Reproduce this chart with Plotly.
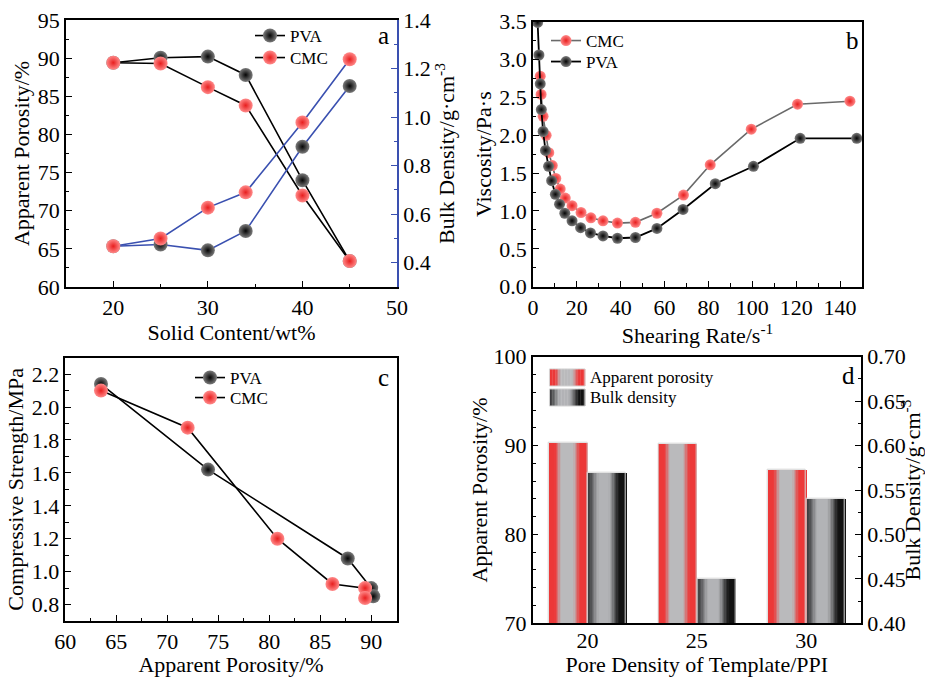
import plotly.graph_objects as go

# ---------------- data ----------------
# Panel a
solid = [20, 25, 30, 34, 40, 45]
pva_por = [89.4, 90.05, 90.2, 87.8, 74.0, 63.4]
cmc_por = [89.4, 89.3, 86.2, 83.8, 72.0, 63.4]
pva_den = [0.468, 0.475, 0.451, 0.531, 0.878, 1.128]
cmc_den = [0.468, 0.500, 0.627, 0.690, 0.978, 1.238]

# Panel b
pva_rate = [2.1, 2.7, 3.3, 3.8, 4.6, 5.7, 7.1, 8.5, 10.2, 12.1, 14.5, 17.8, 21.7,
            26.2, 31.9, 38.5, 46.7, 56.5, 68.4, 83.1, 100.5, 121.8, 147.6]
pva_vis = [3.49, 3.06, 2.68, 2.34, 2.05, 1.80, 1.59, 1.40, 1.22, 1.09, 0.97, 0.87, 0.78,
           0.71, 0.67, 0.64, 0.65, 0.77, 1.02, 1.36, 1.59, 1.96, 1.96]
cmc_rate = [3.3, 3.7, 4.6, 6.0, 7.2, 8.8, 10.4, 12.4, 14.7, 17.8, 21.9, 26.4, 31.9,
            38.5, 46.7, 56.5, 68.6, 80.8, 99.5, 120.6, 144.5]
cmc_vis = [2.78, 2.54, 2.25, 2.00, 1.77, 1.60, 1.43, 1.29, 1.17, 1.07, 0.98, 0.91, 0.87,
           0.84, 0.85, 0.97, 1.21, 1.61, 2.08, 2.41, 2.45]

# Panel c
pva_c_por = [63.5, 74.0, 87.7, 90.0, 90.2]
pva_c_str = [2.14, 1.62, 1.08, 0.90, 0.85]
cmc_c_por = [63.5, 72.0, 80.8, 86.2, 89.4, 89.4]
cmc_c_str = [2.10, 1.875, 1.20, 0.925, 0.90, 0.84]

# Panel d
ppi = ["20", "25", "30"]
por_d = [90.3, 90.2, 87.3]
den_d = [0.57, 0.45, 0.54]

# ---------------- styles ----------------
FONT = "Liberation Serif"
BLUE = "#3a50b0"
RED = "#e81e1e"
BLK = "#050505"
W, H = 925, 677


def px_dom_x(a, b):
    return [a / W, b / W]


def px_dom_y(top, bottom):
    return [1 - bottom / H, 1 - top / H]


def mix(c1, c2, t):
    t = max(0.0, min(1.0, t))
    return "rgb(%d,%d,%d)" % tuple(round(c1[i] + (c2[i] - c1[i]) * t) for i in range(3))


def smooth(a, b, u):
    if u <= a:
        return 0.0
    if u >= b:
        return 1.0
    s = (u - a) / (b - a)
    return s * s * (3 - 2 * s)


def red_grad(u):
    t = smooth(0.14, 0.34, u) * (1 - smooth(0.62, 0.84, u))
    return mix((236, 56, 56), (186, 186, 188), t)


def blk_grad(u):
    if u < 0.45:
        return mix((60, 60, 62), (178, 179, 182), smooth(0.0, 0.32, u))
    return mix((178, 179, 182), (18, 18, 18), smooth(0.52, 0.86, u))


def ball(center, edge, size):
    return dict(size=size, color=center, gradient=dict(type="radial", color=edge),
                line=dict(width=0))


ball_black = ball("#7c7c7c", BLK, 14)
ball_red = ball("#ff8a8a", RED, 14)

fig = go.Figure()

# ---------- Panel a ----------
fig.add_trace(go.Scatter(x=solid, y=pva_por, mode="lines+markers", name="PVA",
                         line=dict(color="black", width=1.6), marker=ball_black,
                         xaxis="x", yaxis="y", legend="legend"))
fig.add_trace(go.Scatter(x=solid, y=cmc_por, mode="lines+markers", name="CMC",
                         line=dict(color="black", width=1.6), marker=ball_red,
                         xaxis="x", yaxis="y", legend="legend2"))
fig.add_trace(go.Scatter(x=solid, y=pva_den, mode="lines+markers", showlegend=False,
                         line=dict(color=BLUE, width=1.6), marker=ball_black,
                         xaxis="x", yaxis="y2"))
fig.add_trace(go.Scatter(x=solid, y=cmc_den, mode="lines+markers", showlegend=False,
                         line=dict(color=BLUE, width=1.6), marker=ball_red,
                         xaxis="x", yaxis="y2"))

# ---------- Panel b ----------
bb = ball("#7c7c7c", BLK, 11)
br = ball("#ff8a8a", RED, 11)
fig.add_trace(go.Scatter(x=cmc_rate, y=cmc_vis, mode="lines+markers", name="CMC",
                         line=dict(color="#6a6a6a", width=1.6), marker=br,
                         xaxis="x2", yaxis="y3", legend="legend3"))
fig.add_trace(go.Scatter(x=pva_rate, y=pva_vis, mode="lines+markers", name="PVA",
                         line=dict(color="black", width=1.8), marker=bb,
                         xaxis="x2", yaxis="y3", legend="legend4"))

# ---------- Panel c ----------
fig.add_trace(go.Scatter(x=pva_c_por, y=pva_c_str, mode="lines+markers", name="PVA",
                         line=dict(color="black", width=1.6), marker=ball_black,
                         xaxis="x3", yaxis="y4", legend="legend5"))
fig.add_trace(go.Scatter(x=cmc_c_por, y=cmc_c_str, mode="lines+markers", name="CMC",
                         line=dict(color="black", width=1.6), marker=ball_red,
                         xaxis="x3", yaxis="y4", legend="legend6"))

# ---------- Panel d (gradient bars built from slices) ----------
N = 28
BW = 0.35
RED_OFF = -0.352
BLK_OFF = 0.004
for i in range(N):
    u = (i + 0.5) / N
    fig.add_trace(go.Bar(x=ppi, y=por_d, width=BW / N + 0.002, offset=RED_OFF + i * BW / N,
                         marker=dict(color=red_grad(u), line=dict(width=0)),
                         showlegend=False, hoverinfo="skip", xaxis="x4", yaxis="y5"))
fig.add_trace(go.Bar(x=ppi, y=por_d, width=BW, offset=RED_OFF,
                     marker=dict(color="rgba(0,0,0,0)", line=dict(width=1, color="#d4d4d4")),
                     showlegend=False, xaxis="x4", yaxis="y5", name="Apparent porosity"))
for i in range(N):
    u = (i + 0.5) / N
    fig.add_trace(go.Bar(x=ppi, y=den_d, width=BW / N + 0.002, offset=BLK_OFF + i * BW / N,
                         marker=dict(color=blk_grad(u), line=dict(width=0)),
                         showlegend=False, hoverinfo="skip", xaxis="x4", yaxis="y6"))
fig.add_trace(go.Bar(x=ppi, y=den_d, width=BW, offset=BLK_OFF,
                     marker=dict(color="rgba(0,0,0,0)", line=dict(width=1, color="#d4d4d4")),
                     showlegend=False, xaxis="x4", yaxis="y6", name="Bulk density"))

# legend swatches for panel d (gradient)
shapes = []
annotations = []
sw_x0, sw_x1 = 0.051, 0.159
for (y0, y1, fn, label) in [(0.890, 0.954, red_grad, "Apparent porosity"),
                            (0.815, 0.879, blk_grad, "Bulk density")]:
    M = 24
    for i in range(M):
        u = (i + 0.5) / M
        shapes.append(dict(type="rect", xref="x4 domain", yref="y5 domain",
                           x0=sw_x0 + (sw_x1 - sw_x0) * i / M,
                           x1=sw_x0 + (sw_x1 - sw_x0) * (i + 1) / M + 0.001,
                           y0=y0, y1=y1, line=dict(width=0), fillcolor=fn(u), layer="above"))
    shapes.append(dict(type="rect", xref="x4 domain", yref="y5 domain", x0=sw_x0, x1=sw_x1,
                       y0=y0, y1=y1, line=dict(width=1, color="#d4d4d4"), layer="above"))
    annotations.append(dict(text=label, xref="x4 domain", yref="y5 domain", x=sw_x1 + 0.008,
                            y=(y0 + y1) / 2, xanchor="left", yanchor="middle", showarrow=False,
                            font=dict(family=FONT, size=17, color="black")))

# panel letters
for txt, x, y in [("a", 383, 36), ("b", 852, 40), ("c", 383, 377), ("d", 848, 375)]:
    annotations.append(dict(text=txt, xref="paper", yref="paper", x=x / W, y=1 - y / H,
                            xanchor="center", yanchor="middle", showarrow=False,
                            font=dict(family=FONT, size=25, color="black")))

# ---------------- axes ----------------
def ax(**kw):
    base = dict(showline=True, linecolor="black", linewidth=1.5, ticks="inside", ticklen=6,
                tickwidth=1.3, tickcolor="black", showgrid=False, zeroline=False,
                tickfont=dict(family=FONT, size=22, color="black"), automargin=False,
                title_font=dict(family=FONT, size=22, color="black"))
    base.update(kw)
    return base


def minor(d, c="black"):
    return dict(ticks="inside", dtick=d, ticklen=3.5, tickwidth=1.2, tickcolor=c, showgrid=False)


def leg(x, y):
    return dict(x=x / W, y=1 - y / H, xanchor="left", yanchor="middle",
                bgcolor="rgba(0,0,0,0)", font=dict(family=FONT, size=17, color="black"),
                itemwidth=30)


dom_a_x = px_dom_x(66, 397)
dom_a_y = px_dom_y(20, 287)
dom_b_x = px_dom_x(533, 862)
dom_b_y = px_dom_y(21.7, 286.7)
dom_c_x = px_dom_x(65.3, 396.7)
dom_c_y = px_dom_y(357.7, 621)
dom_d_x = px_dom_x(532.7, 861)
dom_d_y = px_dom_y(356.7, 623.3)

fig.update_layout(
    width=W, height=H, margin=dict(l=0, r=0, t=0, b=0),
    paper_bgcolor="white", plot_bgcolor="white",
    font=dict(family=FONT, color="black"),
    barmode="overlay", bargap=0,
    shapes=shapes, annotations=annotations,
    # panel a
    xaxis=ax(domain=dom_a_x, anchor="y", range=[15, 50], dtick=10, tick0=0, mirror=True,
             minor=minor(5), title=dict(text="Solid Content/wt%", standoff=4)),
    yaxis=ax(domain=dom_a_y, anchor="x", range=[60, 95], dtick=5, tick0=60,
             minor=minor(2.5), title=dict(text="Apparent Porosity/%", standoff=2)),
    yaxis2=ax(overlaying="y", side="right", anchor="x", range=[0.3, 1.4], dtick=0.2, tick0=0.4,
              tickformat=".1f", linecolor=BLUE, tickcolor=BLUE, minor=minor(0.1, BLUE),
              title=dict(text="Bulk Density/g·cm<sup>-3</sup>", standoff=2)),
    # panel b
    xaxis2=ax(domain=dom_b_x, anchor="y3", range=[0, 150], dtick=20, tick0=0, mirror=True,
              minor=minor(10), title=dict(text="Shearing Rate/s<sup>-1</sup>", standoff=4)),
    yaxis3=ax(domain=dom_b_y, anchor="x2", range=[0, 3.5], dtick=0.5, tick0=0, tickformat=".1f",
              mirror=True, minor=minor(0.25), title=dict(text="Viscosity/Pa·s", standoff=2)),
    # panel c
    xaxis3=ax(domain=dom_c_x, anchor="y4", range=[60, 92.5], dtick=5, tick0=60, mirror=True,
              minor=minor(2.5), title=dict(text="Apparent Porosity/%", standoff=4)),
    yaxis4=ax(domain=dom_c_y, anchor="x3", range=[0.7, 2.3], dtick=0.2, tick0=0.8,
              tickformat=".1f", mirror=True, minor=minor(0.1),
              title=dict(text="Compressive Strength/MPa", standoff=2)),
    # panel d
    xaxis4=ax(domain=dom_d_x, anchor="y5", type="category", range=[-0.5, 2.5], ticks="",
              mirror=True, ticklabelstandoff=-3,
              title=dict(text="Pore Density of Template/PPI", standoff=4)),
    yaxis5=ax(domain=dom_d_y, anchor="x4", range=[70, 100], dtick=10, tick0=70,
              minor=minor(2), title=dict(text="Apparent Porosity/%", standoff=0)),
    yaxis6=ax(overlaying="y5", side="right", anchor="x4", range=[0.40, 0.70], dtick=0.05,
              tick0=0.40, tickformat=".2f", minor=minor(0.025),
              title=dict(text="Bulk Density/g·cm<sup>-3</sup>", standoff=8)),
    legend=leg(250, 36),
    legend2=leg(250, 58),
    legend3=leg(546, 41),
    legend4=leg(546, 62),
    legend5=leg(190, 378),
    legend6=leg(190, 398),
)

fig.write_html("out.html")
